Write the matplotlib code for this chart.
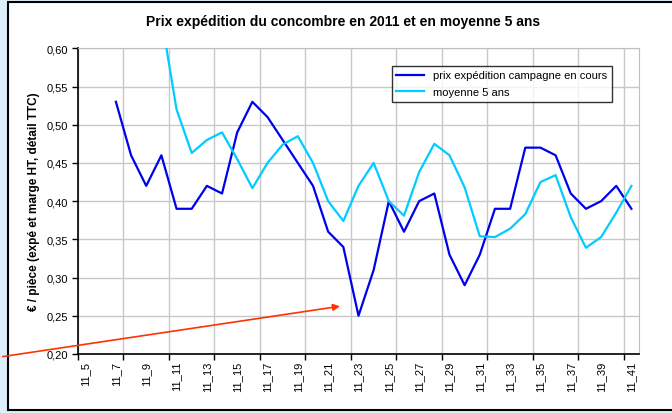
import numpy as np
import matplotlib.pyplot as plt
from matplotlib.patches import Rectangle
from matplotlib.ticker import FuncFormatter

plt.rcParams['font.family'] = ['Liberation Sans', 'DejaVu Sans']

weeks = [f"11_{w}" for w in range(5, 42)]

# prix expédition campagne en cours, semaines 11_7 .. 11_41
prix_weeks = list(range(7, 42))
prix = [0.53, 0.46, 0.42, 0.46, 0.39, 0.39, 0.42, 0.41, 0.49, 0.53,
        0.51, 0.48, 0.45, 0.42, 0.36, 0.34, 0.25, 0.31, 0.40, 0.36,
        0.40, 0.41, 0.33, 0.29, 0.33, 0.39, 0.39, 0.47, 0.47, 0.46,
        0.41, 0.39, 0.40, 0.42, 0.39]

# moyenne 5 ans, semaines 11_10 .. 11_41
moy_weeks = list(range(10, 42))
moyenne = [0.64, 0.52, 0.463, 0.48, 0.49, 0.455, 0.417, 0.45, 0.474, 0.485,
           0.45, 0.40, 0.374, 0.42, 0.45, 0.40, 0.381, 0.438, 0.475, 0.46,
           0.418, 0.354, 0.353, 0.364, 0.383, 0.425, 0.434, 0.379, 0.339,
           0.353, 0.385, 0.42]

W, H = 672, 414
fig = plt.figure(figsize=(W / 100, H / 100), dpi=100)
fig.patch.set_facecolor('#DDEEFB')
fig.add_artist(Rectangle((8 / W, 1 - 411 / H), 1.0, (411 - 3) / H,
                         transform=fig.transFigure, facecolor='white',
                         edgecolor='black', lw=1.5, zorder=-1))

ax = fig.add_axes([78 / W, 1 - 355 / H, (639 - 78) / W, (355 - 49.3) / H])

x_prix = [w - 5 for w in prix_weeks]
x_moy = [w - 5 for w in moy_weeks]
ax.plot(x_prix, prix, color='#0000EE', lw=1.6, label='prix expédition campagne en cours', zorder=3)
ax.plot(x_moy, moyenne, color='#00CCFF', lw=1.6, label='moyenne 5 ans', zorder=3)

ax.set_xlim(-0.5, len(weeks) - 0.5)
ax.set_ylim(0.20, 0.60)
ax.set_yticks(np.arange(0.20, 0.601, 0.05))
ax.yaxis.set_major_formatter(FuncFormatter(lambda v, p: f"{v:.2f}".replace('.', ',')))

# gridlines / tick marks every 3 weeks, labels every 2 weeks
ax.set_xticks(np.arange(-0.5, len(weeks), 3))
ax.set_xticklabels([])
ax.set_xticks(np.arange(0, len(weeks), 2), minor=True)
ax.set_xticklabels(weeks[::2], minor=True, rotation=90, fontsize=8)
ax.tick_params(axis='x', which='minor', length=0, pad=5)
ax.tick_params(axis='x', which='major', length=4, width=1, direction='out')
ax.tick_params(axis='y', length=4, width=1, direction='out', labelsize=8, pad=3)

ax.grid(True, which='major', color='#C8C8C8', lw=1)
ax.set_axisbelow(True)
for s in ['top', 'right']:
    ax.spines[s].set_color('#C0C0C0')
for s in ['left', 'bottom']:
    ax.spines[s].set_color('black')
    ax.spines[s].set_linewidth(1.2)

ax.set_ylabel('€ / pièce (expé et marge HT, détail TTC)', fontsize=8.5, fontweight='bold', labelpad=5)
fig.text(0.511, 1 - 22 / H, 'Prix expédition du concombre en 2011 et en moyenne 5 ans',
         ha='center', va='center', fontsize=10, fontweight='bold')

leg = ax.legend(loc='upper left', bbox_to_anchor=((392 - 78) / (639 - 78), 1 - (67 - 49.3) / (355 - 49.3)),
                fontsize=8, frameon=True, fancybox=False, edgecolor='black',
                handlelength=2.5, borderpad=0.4, labelspacing=0.6, borderaxespad=0)
leg.get_frame().set_linewidth(1)

ax.annotate('', xy=(16.96, 0.263), xycoords='data',
            xytext=(0, 1 - 358 / H), textcoords='figure fraction',
            arrowprops=dict(arrowstyle='-|>', color='#FF3300', lw=1.2, mutation_scale=10),
            annotation_clip=False)

fig.savefig('out.png', dpi=100, facecolor=fig.get_facecolor())
